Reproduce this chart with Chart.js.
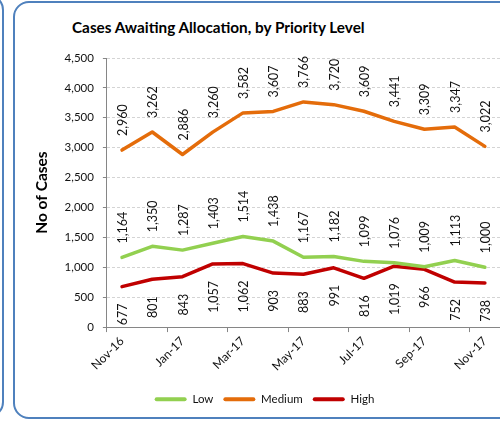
<!DOCTYPE html>
<html>
<head>
<meta charset="utf-8">
<script src="https://cdn.jsdelivr.net/npm/chart.js@4.4.1/dist/chart.umd.min.js"></script>
<style>
  html, body { margin: 0; padding: 0; background: #fff; overflow: hidden; }
  #wrap { position: relative; width: 500px; height: 421px; overflow: hidden; }
  .panel { position: absolute; border: 2px solid #4f81bd; border-radius: 16px; box-sizing: border-box; }
  #leftPanel { left: -30px; top: -6px; width: 34px; height: 424px; }
  #chartPanel { left: 13px; top: 1px; width: 560px; height: 418px; }
  #title { position: absolute; left: 72px; top: 18px; font: bold 15.3px Lato; color: #000; white-space: nowrap; }
  #box { position: absolute; left: 0; top: 0; width: 500px; height: 421px; }
</style>
</head>
<body>
<div id="wrap">
  <div class="panel" id="leftPanel"></div>
  <div class="panel" id="chartPanel"></div>
  <div id="title">Cases Awaiting Allocation, by Priority Level</div>
  <div id="box"><canvas id="chart1"></canvas></div>
</div>
<script>
//chart data
const months = ['Nov-16', 'Dec-16', 'Jan-17', 'Feb-17', 'Mar-17', 'Apr-17', 'May-17',
                'Jun-17', 'Jul-17', 'Aug-17', 'Sep-17', 'Oct-17', 'Nov-17'];
const low = [1164, 1350, 1287, 1403, 1514, 1438, 1167, 1182, 1099, 1076, 1009, 1113, 1000];
const medium = [2960, 3262, 2886, 3260, 3582, 3607, 3766, 3720, 3609, 3441, 3309, 3347, 3022];
const high = [677, 801, 843, 1057, 1062, 903, 883, 991, 816, 1019, 966, 752, 738];
const yMax = 4500;
const yStep = 500;

const axisGrey = '#868686';
const font = 'Lato';

//number format like 1,164
fmt = function(v) {
    return Number(v).toLocaleString('en-US');
}

//rotated value labels, above or below each point
const valueLabels = {
    id: 'valueLabels',
    afterDatasetsDraw(chart) {
        const ctx = chart.ctx;
        chart.data.datasets.forEach((ds, i) => {
            const below = ds.labelPos === 'below';
            chart.getDatasetMeta(i).data.forEach((pt, j) => {
                ctx.save();
                ctx.translate(pt.x + 1, below ? pt.y + 17 : pt.y - 14);
                ctx.rotate(-Math.PI / 2);
                ctx.font = '12.5px ' + font;
                ctx.fillStyle = '#111';
                ctx.textAlign = below ? 'right' : 'left';
                ctx.textBaseline = 'middle';
                ctx.fillText(fmt(ds.data[j]), 0, 0);
                ctx.restore();
            });
        });
    }
};

const data = {
    labels: months,
    datasets: [{
        label: 'Low',
        data: low,
        borderColor: '#92d050',
        backgroundColor: '#92d050',
        labelPos: 'above'
    }, {
        label: 'Medium',
        data: medium,
        borderColor: '#e46c0a',
        backgroundColor: '#e46c0a',
        labelPos: 'above'
    }, {
        label: 'High',
        data: high,
        borderColor: '#c00000',
        backgroundColor: '#c00000',
        labelPos: 'below'
    }]
};

const config = {
    type: 'line',
    data: data,
    options: {
        responsive: true,
        maintainAspectRatio: false,
        animation: false,
        layout: { padding: { top: 58, left: 29, right: 0, bottom: 6 } },
        elements: {
            line: { borderWidth: 3.5, tension: 0, borderCapStyle: 'round', borderJoinStyle: 'round' },
            point: { radius: 0, hoverRadius: 0 }
        },
        plugins: {
            legend: {
                position: 'bottom',
                labels: {
                    boxWidth: 32,
                    boxHeight: 4,
                    useBorderRadius: true,
                    borderRadius: 2,
                    padding: 10,
                    color: '#111',
                    font: { family: font, size: 11.5 },
                    generateLabels: chart => Chart.defaults.plugins.legend.labels.generateLabels(chart)
                        .map(l => Object.assign(l, { lineWidth: 0, strokeStyle: 'transparent' }))
                }
            },
            tooltip: { enabled: false }
        },
        scales: {
            x: {
                offset: true,
                afterFit: scale => { scale.height += 8; },
                grid: {
                    offset: true,
                    drawOnChartArea: false,
                    tickLength: 5,
                    color: c => (c.index % 2 === 0 ? axisGrey : 'transparent')
                },
                border: { color: axisGrey },
                ticks: {
                    autoSkip: false,
                    maxRotation: 45,
                    minRotation: 45,
                    padding: 2,
                    color: '#111',
                    font: { family: font, size: 12 },
                    callback: (v, i) => (i % 2 === 0 ? months[i] : '')
                }
            },
            y: {
                min: 0,
                max: yMax,
                ticks: {
                    stepSize: yStep,
                    padding: 9,
                    color: '#111',
                    font: { family: font, size: 11.5 },
                    callback: v => fmt(v)
                },
                grid: {
                    color: c => (c.tick && c.tick.value === 0 ? 'transparent' : '#d4d4d4'),
                    tickColor: axisGrey,
                    tickLength: 4,
                    tickBorderDash: []
                },
                border: { color: axisGrey, dash: [3, 2] },
                title: {
                    display: true,
                    text: 'No of Cases',
                    color: '#000',
                    font: { family: font, size: 15.5, weight: 'bold' }
                }
            }
        }
    },
    plugins: [valueLabels]
};

const Chart1 = new Chart(document.getElementById('chart1'), config);
</script>
</body>
</html>
